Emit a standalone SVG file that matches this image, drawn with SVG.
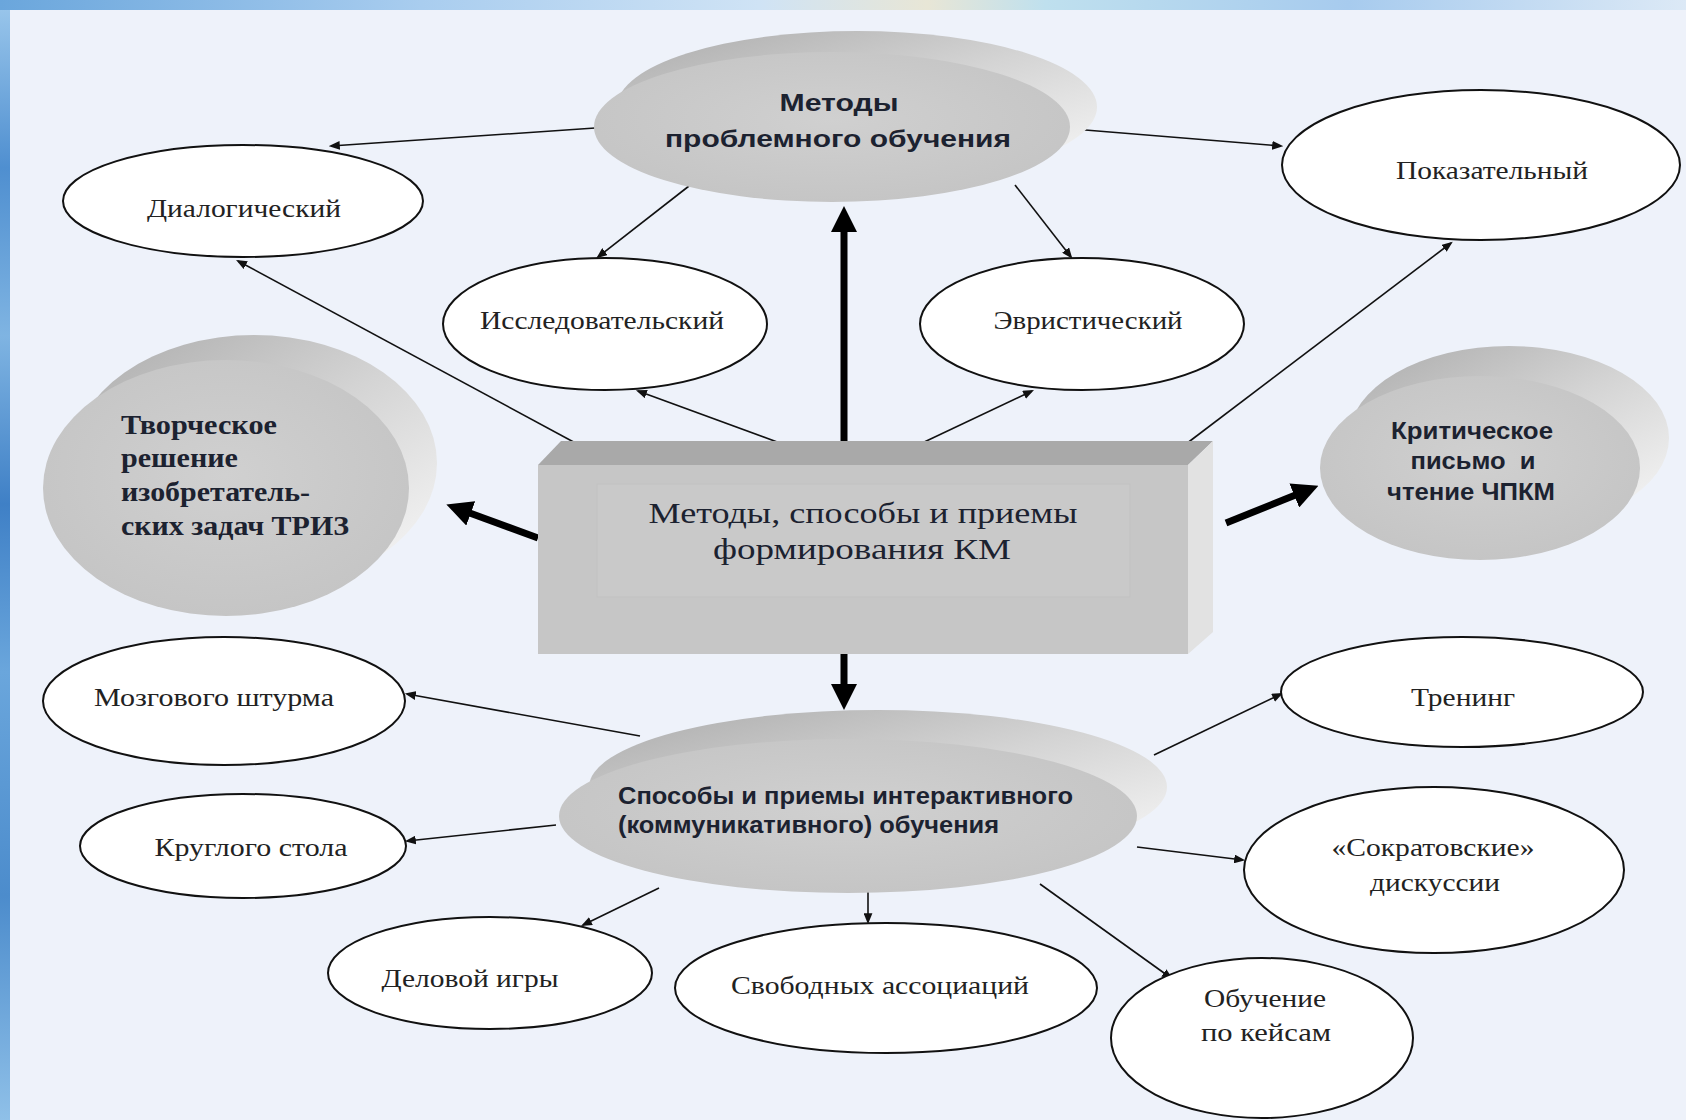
<svg xmlns="http://www.w3.org/2000/svg" width="1686" height="1120" viewBox="0 0 1686 1120">
<defs>
<linearGradient id="sideL" x1="0" y1="0" x2="0" y2="1">
<stop offset="0" stop-color="#9cc8ec"/><stop offset="0.15" stop-color="#4f8fd0"/><stop offset="0.3" stop-color="#7fb4e2"/><stop offset="0.45" stop-color="#3f80c6"/><stop offset="0.6" stop-color="#6aa6dc"/><stop offset="0.8" stop-color="#4c8ccc"/><stop offset="1" stop-color="#8fc0e8"/>
</linearGradient>
<linearGradient id="sideT" x1="0" y1="0" x2="1" y2="0">
<stop offset="0" stop-color="#6aa6dc"/><stop offset="0.25" stop-color="#a9cdef"/><stop offset="0.45" stop-color="#cfe3f5"/><stop offset="0.55" stop-color="#e8e6d6"/><stop offset="0.62" stop-color="#bfe0ee"/><stop offset="0.8" stop-color="#a7cbee"/><stop offset="1" stop-color="#dce9f6"/>
</linearGradient>
<linearGradient id="rim" x1="0.2" y1="0" x2="1" y2="0.9">
<stop offset="0" stop-color="#b3b3b3"/><stop offset="0.45" stop-color="#d4d4d4"/><stop offset="1" stop-color="#f6f6f6"/>
</linearGradient>
<radialGradient id="face" cx="0.5" cy="0.45" r="0.6">
<stop offset="0" stop-color="#d0d0d0"/><stop offset="1" stop-color="#c4c4c4"/>
</radialGradient>
<marker id="ah" viewBox="0 0 10 8" refX="8" refY="4" markerWidth="11" markerHeight="9" markerUnits="userSpaceOnUse" orient="auto">
<path d="M0,0 L10,4 L0,8 z" fill="#111"/>
</marker>
<marker id="ahb" viewBox="0 0 26 26" refX="4" refY="13" markerWidth="26" markerHeight="26" markerUnits="userSpaceOnUse" orient="auto">
<path d="M0,0 L26,13 L0,26 z" fill="#000"/>
</marker>
<style>
.wn{fill:#fff;stroke:#111;stroke-width:2}
.rim{fill:url(#rim)}
.face{fill:url(#face)}
.st{font-family:"Liberation Serif","DejaVu Serif",serif;font-size:26px;fill:#222;text-anchor:middle}
.bs{font-family:"Liberation Sans",Arial,sans-serif;font-weight:bold;font-size:24px;fill:#1c2230}
.bsr{font-family:"Liberation Serif","DejaVu Serif",serif;font-weight:bold;font-size:27px;fill:#1c2230}
.cs{font-family:"Liberation Serif","DejaVu Serif",serif;font-size:30px;fill:#1c2230;text-anchor:middle}
.thin{stroke:#111;stroke-width:1.6;fill:none;marker-end:url(#ah)}
.thick{stroke:#000;stroke-width:7;fill:none;marker-end:url(#ahb)}
</style>
</defs>

<rect x="0" y="0" width="1686" height="1120" fill="url(#sideL)"/>
<rect x="0" y="0" width="1686" height="10" fill="url(#sideT)"/>
<rect x="10" y="10" width="1676" height="1110" fill="#eef2fa"/>

<g id="connectors">
<line class="thin" x1="595" y1="128" x2="331" y2="146"/>
<line class="thin" x1="1073" y1="129" x2="1281" y2="146"/>
<line class="thin" x1="689" y1="186" x2="598" y2="257"/>
<line class="thin" x1="1015" y1="185" x2="1071" y2="257"/>
<line class="thin" x1="581" y1="446" x2="238" y2="261"/>
<line class="thin" x1="788" y1="446" x2="638" y2="391"/>
<line class="thin" x1="920" y1="444" x2="1032" y2="391"/>
<line class="thin" x1="1186" y1="444" x2="1451" y2="243"/>
<line class="thin" x1="640" y1="736" x2="407" y2="694"/>
<line class="thin" x1="1154" y1="755" x2="1281" y2="694"/>
<line class="thin" x1="556" y1="825" x2="407" y2="841"/>
<line class="thin" x1="1137" y1="847" x2="1243" y2="860"/>
<line class="thin" x1="659" y1="888" x2="583" y2="925"/>
<line class="thin" x1="868" y1="888" x2="868" y2="922"/>
<line class="thin" x1="1040" y1="884" x2="1171" y2="978"/>
<line class="thick" x1="844" y1="441" x2="844" y2="228"/>
<line class="thick" x1="538" y1="538" x2="467" y2="512"/>
<line class="thick" x1="1226" y1="523" x2="1298" y2="494"/>
<line class="thick" x1="844" y1="654" x2="844" y2="688"/>
</g>

<g id="n-problem">
<ellipse class="rim" cx="857" cy="107" rx="240" ry="76"/>
<ellipse class="face" cx="832" cy="127" rx="238" ry="75"/>
<text class="bs" x="839" y="111" text-anchor="middle" textLength="119" lengthAdjust="spacingAndGlyphs">Методы</text>
<text class="bs" x="838" y="147" text-anchor="middle" textLength="346" lengthAdjust="spacingAndGlyphs">проблемного обучения</text>
</g>

<g id="n-dialog">
<ellipse class="wn" cx="243" cy="201" rx="180" ry="56"/>
<text class="st" x="244" y="217" textLength="194" lengthAdjust="spacingAndGlyphs">Диалогический</text>
</g>

<g id="n-pokaz">
<ellipse class="wn" cx="1481" cy="165" rx="199" ry="75"/>
<text class="st" x="1492" y="179" textLength="192" lengthAdjust="spacingAndGlyphs">Показательный</text>
</g>

<g id="n-issled">
<ellipse class="wn" cx="605" cy="324" rx="162" ry="66"/>
<text class="st" x="602" y="329" textLength="244" lengthAdjust="spacingAndGlyphs">Исследовательский</text>
</g>

<g id="n-evrist">
<ellipse class="wn" cx="1082" cy="324" rx="162" ry="66"/>
<text class="st" x="1088" y="329" textLength="189" lengthAdjust="spacingAndGlyphs">Эвристический</text>
</g>

<g id="n-triz">
<ellipse class="rim" cx="254" cy="463" rx="183" ry="128"/>
<ellipse class="face" cx="226" cy="488" rx="183" ry="128"/>
<text class="bsr" x="121" y="434" textLength="156" lengthAdjust="spacingAndGlyphs">Творческое</text>
<text class="bsr" x="121" y="467" textLength="117" lengthAdjust="spacingAndGlyphs">решение</text>
<text class="bsr" x="121" y="501" textLength="189" lengthAdjust="spacingAndGlyphs">изобретатель-</text>
<text class="bsr" x="121" y="535" textLength="228" lengthAdjust="spacingAndGlyphs">ских задач ТРИЗ</text>
</g>

<g id="n-center">
<polygon points="538,465 561,441 1213,441 1188,465" fill="#a9a9a9"/>
<polygon points="1188,465 1213,441 1213,632 1188,654" fill="#e2e2e2"/>
<rect x="538" y="465" width="650" height="189" fill="#c6c6c6"/>
<rect x="597" y="484" width="533" height="113" fill="#c9c9c9" stroke="#c1c1c1" stroke-width="1"/>
<text class="cs" x="863" y="523" textLength="429" lengthAdjust="spacingAndGlyphs">Методы, способы и приемы</text>
<text class="cs" x="862" y="559" textLength="298" lengthAdjust="spacingAndGlyphs">формирования КМ</text>
</g>

<g id="n-critical">
<ellipse class="rim" cx="1509" cy="438" rx="160" ry="92"/>
<ellipse class="face" cx="1480" cy="468" rx="160" ry="92"/>
<text class="bs" x="1472" y="439" text-anchor="middle" font-size="23" textLength="162" lengthAdjust="spacingAndGlyphs">Критическое</text>
<text class="bs" x="1473" y="469" text-anchor="middle" font-size="23" textLength="125" lengthAdjust="spacingAndGlyphs" xml:space="preserve">письмо  и</text>
<text class="bs" x="1471" y="500" text-anchor="middle" font-size="23" textLength="168" lengthAdjust="spacingAndGlyphs">чтение ЧПКМ</text>
</g>

<g id="n-brain">
<ellipse class="wn" cx="224" cy="701" rx="181" ry="64"/>
<text class="st" x="214" y="706" textLength="240" lengthAdjust="spacingAndGlyphs">Мозгового штурма</text>
</g>

<g id="n-training">
<ellipse class="wn" cx="1462" cy="692" rx="181" ry="55"/>
<text class="st" x="1463" y="706" textLength="104" lengthAdjust="spacingAndGlyphs">Тренинг</text>
</g>

<g id="n-interactive">
<ellipse class="rim" cx="878" cy="787" rx="289" ry="77"/>
<ellipse class="face" cx="848" cy="816" rx="289" ry="77"/>
<text class="bs" x="618" y="804" font-size="23" textLength="455" lengthAdjust="spacingAndGlyphs">Способы и приемы интерактивного</text>
<text class="bs" x="618" y="833" font-size="23" textLength="381" lengthAdjust="spacingAndGlyphs">(коммуникативного) обучения</text>
</g>

<g id="n-round">
<ellipse class="wn" cx="243" cy="846" rx="163" ry="52"/>
<text class="st" x="251" y="856" textLength="193" lengthAdjust="spacingAndGlyphs">Круглого стола</text>
</g>

<g id="n-socrat">
<ellipse class="wn" cx="1434" cy="870" rx="190" ry="83"/>
<text class="st" x="1433" y="856" textLength="203" lengthAdjust="spacingAndGlyphs">«Сократовские»</text>
<text class="st" x="1435" y="891" textLength="130" lengthAdjust="spacingAndGlyphs">дискуссии</text>
</g>

<g id="n-business">
<ellipse class="wn" cx="490" cy="973" rx="162" ry="56"/>
<text class="st" x="470" y="987" textLength="177" lengthAdjust="spacingAndGlyphs">Деловой игры</text>
</g>

<g id="n-free">
<ellipse class="wn" cx="886" cy="988" rx="211" ry="65"/>
<text class="st" x="880" y="994" textLength="298" lengthAdjust="spacingAndGlyphs">Свободных ассоциаций</text>
</g>

<g id="n-cases">
<ellipse class="wn" cx="1262" cy="1038" rx="151" ry="80"/>
<text class="st" x="1265" y="1007" textLength="122" lengthAdjust="spacingAndGlyphs">Обучение</text>
<text class="st" x="1266" y="1041" textLength="130" lengthAdjust="spacingAndGlyphs">по кейсам</text>
</g>
</svg>
